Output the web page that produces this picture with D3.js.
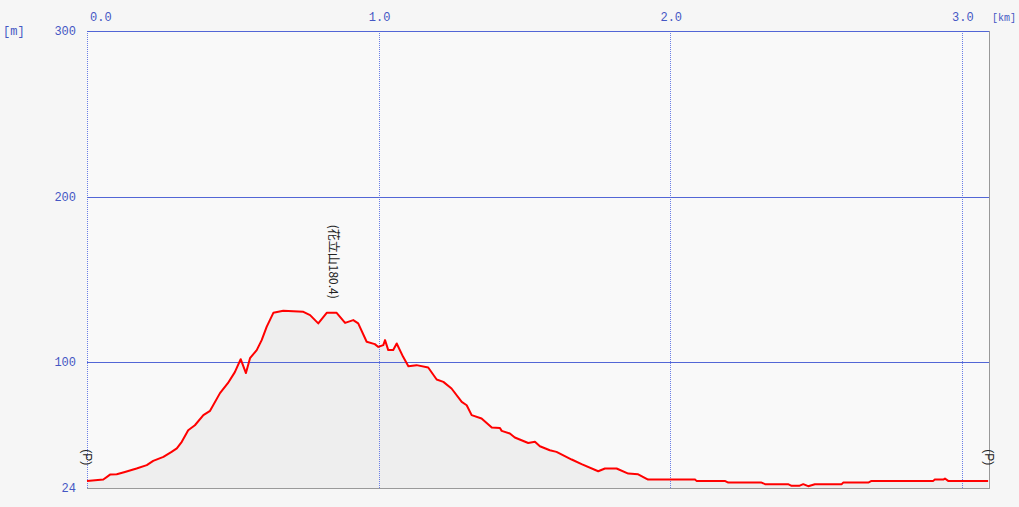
<!DOCTYPE html>
<html>
<head>
<meta charset="utf-8">
<script src="https://cdn.jsdelivr.net/npm/d3@7"></script>
<style>
  html, body { margin: 0; padding: 0; background: #f6f6f6; }
  svg { display: block; }
</style>
</head>
<body>
<svg id="chart" width="1019" height="507"></svg>
<script>
// ---- data ----
const distanceKm = [0.000,0.056,0.079,0.102,0.130,0.170,0.205,0.227,0.262,0.290,0.308,0.325,0.347,0.370,0.399,0.422,0.456,0.483,0.507,0.527,0.545,0.559,0.582,0.599,0.616,0.639,0.673,0.742,0.765,0.793,0.822,0.856,0.885,0.913,0.930,0.959,0.987,0.999,1.016,1.022,1.033,1.050,1.062,1.084,1.102,1.130,1.170,1.199,1.222,1.250,1.285,1.302,1.319,1.353,1.388,1.416,1.422,1.450,1.467,1.513,1.536,1.553,1.587,1.610,1.662,1.696,1.753,1.776,1.816,1.856,1.890,1.924,2.085,2.090,2.187,2.199,2.313,2.325,2.404,2.416,2.442,2.456,2.473,2.496,2.588,2.593,2.679,2.690,2.902,2.907,2.936,2.942,2.953,3.090];
const elevationM = [28.3,29.1,32.1,32.3,33.7,35.8,37.8,40.4,42.8,45.8,47.9,51.9,58.9,61.9,68.0,70.6,81.3,87.3,94.0,101.8,93.4,102.4,107.3,113.3,121.3,129.8,131.0,130.4,128.4,123.4,129.8,129.8,123.7,125.4,123.4,112.3,110.9,109.2,110.3,113.3,107.3,107.3,111.3,103.2,97.6,98.2,96.8,89.5,88.1,84.1,76.0,74.0,68.0,66.0,60.5,60.3,58.5,56.9,54.5,51.2,51.9,49.2,46.8,45.8,41.2,38.4,34.1,35.8,35.8,32.7,32.3,29.1,29.1,28.3,28.3,27.3,27.3,26.3,26.3,25.3,25.3,26.3,25.1,26.3,26.3,27.3,27.3,28.3,28.3,29.1,29.1,29.7,28.3,28.3];
const xTicks = [0, 1, 2, 3];
const xTickLabels = ["0.0", "1.0", "2.0", "3.0"];
const yTicks = [300, 200, 100, 24];
const yTickLabels = ["300", "200", "100", "24"];
const xDomain = [0, 3.093];
const yDomain = [24, 300];
const peakLabel = "(花立山180.4)";
const peakKm = 0.843;
const peakLabelElev = 183;
const endLabels = ["(P)", "(P)"];
const endKm = [0, 3.093];
const endLabelElev = 42.5;
const xUnit = "[km]";
const yUnit = "[m]";

// ---- layout ----
const L = 87, R = 989, T = 31, B = 488;
const svg = d3.select("#chart");
const x = d3.scaleLinear().domain(xDomain).range([L, R]);
const y = d3.scaleLinear().domain(yDomain).range([B, T]);
const blue = "#5266d6";
const dotBlue = "#6a7ee6";
const textBlue = "#4557c4";
const monoFont = "'Liberation Mono', 'DejaVu Sans Mono', monospace";

// plot background
svg.append("rect").attr("x", L).attr("y", T).attr("width", R - L).attr("height", B - T).attr("fill", "#f9f9f9");

// area under curve
const pts = distanceKm.map((d, i) => [d, elevationM[i]]);
svg.append("path")
  .datum(pts)
  .attr("fill", "#eeeeee")
  .attr("d", d3.area().x(d => x(d[0])).y0(y(yDomain[0])).y1(d => y(d[1])));

// vertical grid (dotted)
svg.append("g").selectAll("line").data(xTicks).join("line")
  .attr("x1", d => Math.round(x(d)) + 0.5).attr("x2", d => Math.round(x(d)) + 0.5)
  .attr("y1", T).attr("y2", B)
  .attr("stroke", dotBlue).attr("stroke-width", 1).attr("stroke-dasharray", "1,1")
  .attr("shape-rendering", "crispEdges");

// horizontal grid (solid)
svg.append("g").selectAll("line").data(yTicks.filter(v => v !== 24)).join("line")
  .attr("x1", L).attr("x2", R)
  .attr("y1", d => Math.round(y(d)) + 0.5).attr("y2", d => Math.round(y(d)) + 0.5)
  .attr("stroke", blue).attr("stroke-width", 1)
  .attr("shape-rendering", "crispEdges");

// right and bottom frame (gray)
svg.append("line").attr("x1", R + 0.5).attr("x2", R + 0.5).attr("y1", T).attr("y2", B + 1)
  .attr("stroke", "#999999").attr("stroke-width", 1).attr("shape-rendering", "crispEdges");
svg.append("line").attr("x1", L).attr("x2", R + 1).attr("y1", B + 0.5).attr("y2", B + 0.5)
  .attr("stroke", "#999999").attr("stroke-width", 1).attr("shape-rendering", "crispEdges");

// profile line
svg.append("path")
  .datum(pts)
  .attr("fill", "none")
  .attr("stroke", "#ff0000")
  .attr("stroke-width", 2)
  .attr("stroke-linejoin", "round")
  .attr("d", d3.line().x(d => x(d[0])).y(d => y(d[1])));

// x tick labels (top)
svg.append("g").selectAll("text").data(xTicks).join("text")
  .attr("x", (d, i) => i === 0 ? x(d) + 3 : x(d) + 1)
  .attr("y", 21)
  .attr("text-anchor", (d, i) => i === 0 ? "start" : "middle")
  .attr("font-family", monoFont).attr("font-size", 12).attr("fill", textBlue)
  .text((d, i) => xTickLabels[i]);
svg.append("text").attr("x", 992).attr("y", 21)
  .attr("font-family", monoFont).attr("font-size", 11).attr("fill", textBlue)
  .attr("textLength", 24).attr("lengthAdjust", "spacingAndGlyphs")
  .text(xUnit);

// y tick labels
svg.append("g").selectAll("text").data(yTicks).join("text")
  .attr("x", 76).attr("y", d => y(d) + 4)
  .attr("text-anchor", "end")
  .attr("font-family", monoFont).attr("font-size", 12).attr("fill", textBlue)
  .text((d, i) => yTickLabels[i]);
svg.append("text").attr("x", 3).attr("y", 35)
  .attr("font-family", monoFont).attr("font-size", 12).attr("fill", textBlue).text(yUnit);

// peak label (vertical)
svg.append("text")
  .attr("transform", `translate(${x(peakKm) - 4},${y(peakLabelElev)}) rotate(90)`)
  .attr("font-family", "'Noto Sans CJK JP', sans-serif").attr("font-size", 12).attr("fill", "#222")
  .text(peakLabel);

// (P) labels
svg.append("g").selectAll("text").data(endKm).join("text")
  .attr("transform", d => `translate(${x(d) - 4},${y(endLabelElev)}) rotate(90)`)
  .attr("text-anchor", "middle")
  .attr("font-family", "'Liberation Sans', sans-serif").attr("font-size", 12).attr("fill", "#222")
  .text((d, i) => endLabels[i]);
</script>
</body>
</html>
